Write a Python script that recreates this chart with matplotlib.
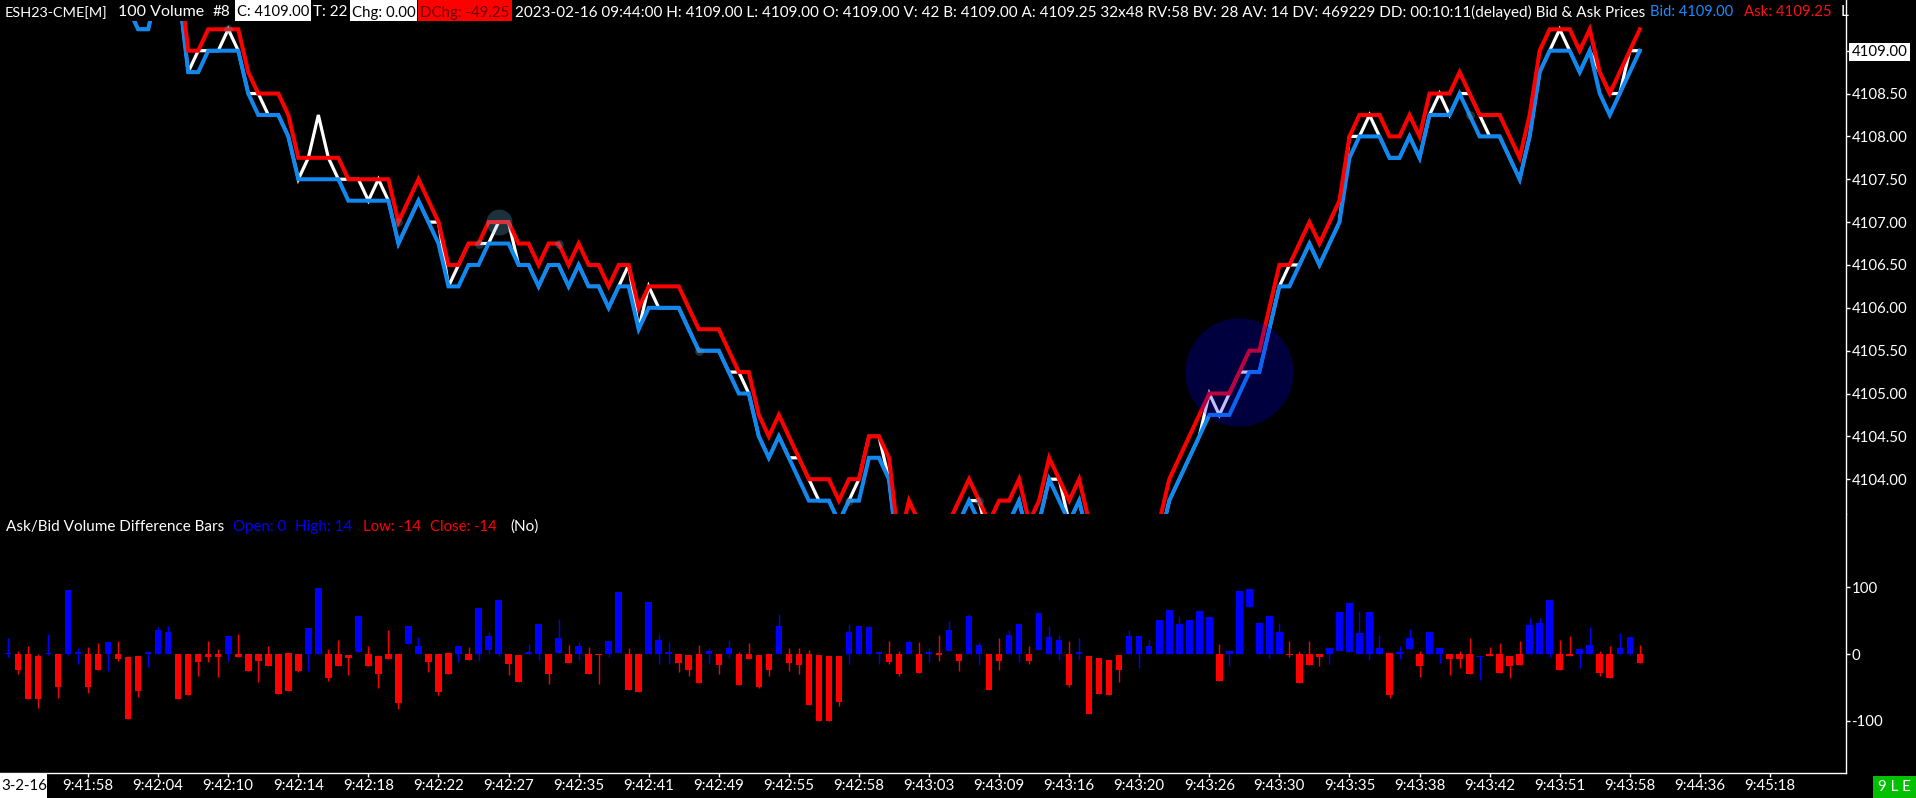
import numpy as np
import matplotlib
matplotlib.use('Agg')
import matplotlib.pyplot as plt
from matplotlib.patches import Rectangle
from matplotlib import font_manager

# a humanist font close to the platform UI font
names = {f.name for f in font_manager.fontManager.ttflist}
FONT = 'Noto Sans'
for cand in ['Lato', 'Roboto', 'Noto Sans']:
    if cand in names:
        FONT = cand
        break
plt.rcParams['font.family'] = [FONT, 'DejaVu Sans']

# ---- data: bid / ask / last per 100-volume bar ----
bid = [4109.75] * 10 + [
    4109.75, 4109.75, 4109.5, 4109.25, 4109.25, 4109.75, 4110.0, 4109.75, 4108.75, 4108.75,
    4109.0, 4109.0, 4109.0, 4109.0, 4108.5, 4108.25, 4108.25, 4108.25, 4108.0, 4107.5,
    4107.5, 4107.5, 4107.5, 4107.5, 4107.25, 4107.25, 4107.25, 4107.25, 4107.25, 4106.75,
    4107.0, 4107.25, 4107.0, 4106.75, 4106.25, 4106.25, 4106.5, 4106.5, 4106.75, 4106.75,
    4106.75, 4106.5, 4106.5, 4106.25, 4106.5, 4106.5, 4106.25, 4106.5, 4106.25, 4106.25,
    4106.0, 4106.25, 4106.25, 4105.75, 4106.0, 4106.0, 4106.0, 4106.0, 4105.75, 4105.5,
    4105.5, 4105.5, 4105.25, 4105.0, 4105.0, 4104.5, 4104.25, 4104.5, 4104.25, 4104.0,
    4103.75, 4103.75, 4103.75, 4103.5, 4103.75, 4103.75, 4104.25, 4104.25, 4104.0, 4103.0,
    4103.5, 4103.25, 4103.0, 4103.0, 4103.25, 4103.5, 4103.75, 4103.5, 4103.25, 4103.5,
    4103.5, 4103.75, 4103.25, 4103.5, 4104.0, 4103.75, 4103.5, 4103.75, 4103.25, 4103.0,
    4103.0, 4103.0, 4103.0, 4103.0, 4103.0, 4103.25, 4103.75, 4104.0, 4104.25, 4104.5,
    4104.75, 4104.75, 4104.75, 4105.0, 4105.25, 4105.25, 4105.75, 4106.25, 4106.25, 4106.5,
    4106.75, 4106.5, 4106.75, 4107.0, 4107.75, 4108.0, 4108.0, 4108.0, 4107.75, 4107.75,
    4108.0, 4107.75, 4108.25, 4108.25, 4108.25, 4108.5, 4108.25, 4108.0, 4108.0, 4108.0,
    4107.75, 4107.5, 4108.0, 4108.75, 4109.0, 4109.0, 4109.0, 4108.75, 4109.0, 4108.5,
    4108.25, 4108.5, 4108.75, 4109.0]

ask = [4110.0] * 10 + [
    4110.0, 4110.0, 4109.75, 4109.5, 4109.5, 4110.0, 4110.25, 4110.0, 4109.0, 4109.0,
    4109.25, 4109.25, 4109.25, 4109.25, 4108.75, 4108.5, 4108.5, 4108.5, 4108.25, 4107.75,
    4107.75, 4107.75, 4107.75, 4107.75, 4107.5, 4107.5, 4107.5, 4107.5, 4107.5, 4107.0,
    4107.25, 4107.5, 4107.25, 4107.0, 4106.5, 4106.5, 4106.75, 4106.75, 4107.0, 4107.0,
    4107.0, 4106.75, 4106.75, 4106.5, 4106.75, 4106.75, 4106.5, 4106.75, 4106.5, 4106.5,
    4106.25, 4106.5, 4106.5, 4106.0, 4106.25, 4106.25, 4106.25, 4106.25, 4106.0, 4105.75,
    4105.75, 4105.75, 4105.5, 4105.25, 4105.25, 4104.75, 4104.5, 4104.75, 4104.5, 4104.25,
    4104.0, 4104.0, 4104.0, 4103.75, 4104.0, 4104.0, 4104.5, 4104.5, 4104.25, 4103.25,
    4103.75, 4103.5, 4103.25, 4103.25, 4103.5, 4103.75, 4104.0, 4103.75, 4103.5, 4103.75,
    4103.75, 4104.0, 4103.5, 4103.75, 4104.25, 4104.0, 4103.75, 4104.0, 4103.5, 4103.25,
    4103.25, 4103.25, 4103.25, 4103.25, 4103.25, 4103.5, 4104.0, 4104.25, 4104.5, 4104.75,
    4105.0, 4105.0, 4105.0, 4105.25, 4105.5, 4105.5, 4106.0, 4106.5, 4106.5, 4106.75,
    4107.0, 4106.75, 4107.0, 4107.25, 4108.0, 4108.25, 4108.25, 4108.25, 4108.0, 4108.0,
    4108.25, 4108.0, 4108.5, 4108.5, 4108.5, 4108.75, 4108.5, 4108.25, 4108.25, 4108.25,
    4108.0, 4107.75, 4108.25, 4109.0, 4109.25, 4109.25, 4109.25, 4109.0, 4109.25, 4108.75,
    4108.5, 4108.75, 4109.0, 4109.25]

last = [4109.75] * 10 + [
    4109.75, 4109.75, 4109.5, 4109.25, 4109.25, 4109.75, 4110.0, 4109.75, 4108.75, 4109.0,
    4109.0, 4109.0, 4109.25, 4109.0, 4108.5, 4108.5, 4108.25, 4108.25, 4108.0, 4107.5,
    4107.75, 4108.25, 4107.75, 4107.5, 4107.5, 4107.5, 4107.25, 4107.5, 4107.25, 4106.75,
    4107.0, 4107.25, 4107.0, 4107.0, 4106.25, 4106.5, 4106.75, 4106.75, 4106.75, 4107.0,
    4107.0, 4106.5, 4106.5, 4106.25, 4106.5, 4106.5, 4106.25, 4106.5, 4106.25, 4106.25,
    4106.0, 4106.25, 4106.5, 4105.75, 4106.25, 4106.0, 4106.0, 4106.0, 4105.75, 4105.5,
    4105.5, 4105.5, 4105.25, 4105.25, 4105.0, 4104.5, 4104.25, 4104.5, 4104.25, 4104.25,
    4104.0, 4103.75, 4103.75, 4103.5, 4103.75, 4104.0, 4104.5, 4104.5, 4104.0, 4103.0,
    4103.5, 4103.25, 4103.0, 4103.0, 4103.25, 4103.5, 4103.75, 4103.75, 4103.25, 4103.5,
    4103.5, 4103.75, 4103.25, 4103.5, 4104.0, 4104.0, 4103.5, 4103.75, 4103.25, 4103.0,
    4103.0, 4103.0, 4103.0, 4103.0, 4103.0, 4103.25, 4103.75, 4104.0, 4104.25, 4104.5,
    4105.0, 4104.75, 4105.0, 4105.25, 4105.25, 4105.25, 4105.75, 4106.25, 4106.5, 4106.5,
    4106.75, 4106.5, 4106.75, 4107.0, 4108.0, 4108.0, 4108.25, 4108.0, 4107.75, 4107.75,
    4108.0, 4107.75, 4108.25, 4108.5, 4108.25, 4108.5, 4108.5, 4108.25, 4108.0, 4108.0,
    4107.75, 4107.5, 4108.0, 4108.75, 4109.0, 4109.25, 4109.0, 4108.75, 4109.0, 4108.75,
    4108.5, 4108.5, 4109.0, 4109.0]

# ---- data: ask/bid volume difference bars (open, close, high, low) ----
vd_open = [
    0, 0, 0, -2.5, 0, 0, 0, 0, 0, 0,
    0, 0, -4, -2.5, 0, 0, 0, 0, 0, 0,
    0, 0, 0, 0, 0, 0, 0, 0, 1.5, 0,
    0, 0, 0, 0, -2, 2.5, 0, -3.5, 0, 0,
    15, 0, 0, 0, 1, 0, 0, 0, 5.5, 0,
    0, -1, 0, 0, 0, 1, 0, 0, 0, 0,
    0, 1, 0, 0, 0, 0, 0, 0, -1, 0,
    0, 0, 0, 0, 0, -1, 0, 0, 0, 0,
    0, -1, -2.5, -2.5, 0, 0, 0, 0, 0, 0,
    0, 0, 0, 1, 4.5, 0, 0, 0, 0, 0,
    0, 0, 0, 6, 0, 0, 0, 0, -2.5, -6.5,
    -9, -1, 0, 0, 0, 0, 0, 0, 0, 0,
    0, 0, 0, 0, 70, 0, 0, 0, 0, 0,
    0, 0, 0, 4.5, 2.5, 0, 0, 0, 1, 0,
    7, 0, 0, 0, 0, 0, 0, -4.5, 0, 0,
    -2.5, 0, 0, 0, 0, 0, 0, 0, 0, 0,
    0, 0, 0, 0]
vd_close = [
    1, -23.5, -68, -67, 1, -50, 96, 2.5, -50, -24.5,
    18, -7, -98, -55, 2.5, 36, 33, -68, -61, -11.5,
    -4, -5, 27, -5, -26, -11, -18.5, -59.5, -55, -25,
    39, 99, -36.5, -18.5, -6.5, 57.5, -18.5, -30, -8, -74,
    42.5, 12.5, -12.5, -56.5, -30, 12.5, -9, 68.5, 27.5, 81.5,
    -14.5, -42.5, 2.5, 44.5, -29.5, 24.5, -13, 12.5, -29.5, -2,
    20, 93.5, -54.5, -56.5, 78.5, 21, 2.5, -13, -24, -44,
    4, -16.5, 8.5, -47, -8, -49.5, -24, 42.5, -13.5, -17,
    -76.5, -100.5, -100.5, -72, 32.5, 42.5, 40, 2.5, -12, -30,
    18.5, -28.5, 2.5, -1, 36.5, -10.5, 56.5, 13, -54, -10.5,
    28, 44.5, -10.5, 61, 25, 21, -47, 2.5, -90, -60,
    -62, -24, 27.5, 27.5, 12.5, 50.5, 66.5, 45.5, 50.5, 64,
    55, -40.5, 4, 94, 97, 46, 56.5, 33, -1, -44,
    -17, -5, 9.5, 62.5, 76, 31, 62.5, 8.5, -62, 2.5,
    24.5, -18, 32.5, 9.5, -8, -8, -30, -3, -3, -28.5,
    -17.5, -17, 44, 46, 80.5, -24, -3, 8, 14, -29,
    -36, 8.5, 25, -14]
vd_high = [
    24, 5, 12.5, 0, 30, 0, 96, 9, 10, 16,
    18, 20, -4, -2.5, 5, 41, 42, 0, 0, 0,
    20, 8, 27, 30, 0, 0, 12, 0, 2, 0,
    39, 99, 7, 21.5, -2, 57.5, 12, -3.5, 36, 0,
    42.5, 25, 0, 0, 1, 12.5, 10, 68.5, 33.5, 81.5,
    0, -1, 15, 44.5, 0, 52.5, 14, 17.5, 10, 0,
    20, 93.5, 8.5, 0, 78.5, 30, 18.5, 0, -1, 13,
    9.5, 0, 21.5, 3.5, 16, -1, 0, 59.5, 9.5, 9.5,
    6.5, -1, -2.5, -2.5, 44.5, 42.5, 41.5, 2.5, 19, 4,
    21.5, 17.5, 9.5, 28, 49, 0, 59.5, 17.5, 0, 24.5,
    36.5, 44.5, 11.5, 61, 41.5, 28, 19, 24.5, -2.5, -6.5,
    -9, -1, 35.5, 27.5, 22, 50.5, 66.5, 56.5, 50.5, 64,
    55, 15.5, 4, 94, 97, 46, 56.5, 46, 19, 4,
    19, 0, 9.5, 62.5, 76, 64, 62.5, 28, 1, 12.5,
    38, 4.5, 32.5, 9.5, 0, 4, 23.5, -3, 10, 16.5,
    -2.5, 19, 54.5, 54, 80.5, 20.5, 26.5, 8, 40, 4.5,
    11.5, 31, 25, 14]
vd_low = [
    -4, -30, -68, -81, -1, -66, -2, -15, -59, -24.5,
    -26, -10, -98, -65, -20, 0, 0, -68, -61, -33,
    -12, -35, -11, -5, -26, -42, -18.5, -59.5, -55, -26.5,
    -25, 0, -40, -18.5, -31, 2.5, -18.5, -51, -8, -83,
    15, 0, -27.5, -62, -30, -12, -9, -11, 0, -2.5,
    -31, -42.5, -1, -9, -45, 1, -13, -9, -29.5, -45,
    -5, 1, -54.5, -56.5, 0, -15, -15, -27, -33, -44,
    -15.5, -29.5, -5.5, -47, -8, -51.5, -33, 0, -25.5, -29.5,
    -76.5, -100.5, -100.5, -78, -15.5, -2, -2, -15.5, -15.5, -33.5,
    0, -28.5, -12, -10.5, 4.5, -25.5, 0, -17, -54, -24.5,
    0, -12, -14.5, 6, 0, -8.5, -49.5, -8.5, -90, -60,
    -62, -42, 0, -21, 0, 0, 0, 0, 0, 0,
    0, -40.5, -17.5, 0, 70, 0, -5.5, 0, -4.5, -44,
    -17, -18.5, -15, 4.5, 2.5, 0, -9, 0, -65.5, -8,
    7, -35, 0, -14, -32, -21, -30, -38.5, -3, -28.5,
    -36, -17, 0, 0, -4.5, -24, -3, -20.5, 0, -32.5,
    -36, 0, -2, -14]

tick_labels = ['9:41:58', '9:42:04', '9:42:10', '9:42:14', '9:42:18', '9:42:22', '9:42:27',
               '9:42:35', '9:42:41', '9:42:49', '9:42:55', '9:42:58', '9:43:03', '9:43:09',
               '9:43:16', '9:43:20', '9:43:26', '9:43:30', '9:43:35', '9:43:38', '9:43:42',
               '9:43:51', '9:43:58', '9:44:36', '9:45:18']
tick_bars = [8 + 7 * k for k in range(len(tick_labels))]
price_ticks = [4104.0, 4104.5, 4105.0, 4105.5, 4106.0, 4106.5, 4107.0, 4107.5, 4108.0, 4108.5, 4109.0]

# highlight circles / small trade markers (bar, price)
hl_bar, hl_price = 123, 4105.25
hl2_bar, hl2_price = 49, 4107.0
dot_bars = [22, 39, 47, 55, 69, 84, 97, 146]
dot_prices = [4109.25, 4107.0, 4106.75, 4106.75, 4105.5, 4103.75, 4103.75, 4108.25]

# ---- figure ----
W, H = 1916, 798
fig = plt.figure(figsize=(W / 100, H / 100), dpi=100, facecolor='black')

def fx(px):
    return px / W

def fy(py):
    return 1 - py / H

x = np.arange(len(bid))
XL = (-0.8, 183.6)
BLUE = '#1088f0'
RED = '#ff0000'

r = fig.canvas.get_renderer()

def fit_size(s, width, fs0=10):
    t = fig.text(0, 0, s, fontsize=fs0)
    w = t.get_window_extent(r).width
    t.remove()
    return fs0 * width / w

tick_fs = fit_size('4108.50', 56)

# price panel
ax = fig.add_axes([0, fy(514), fx(1846), 514 / H])
ax.set_facecolor('black')
ax.plot(x, last, color='white', lw=2.3, zorder=2, solid_joinstyle='miter')
ax.plot(x, bid, color=BLUE, lw=2.9, zorder=3, solid_joinstyle='miter')
ax.plot(x, ask, color=RED, lw=2.9, zorder=4, solid_joinstyle='miter')
ax.scatter([hl_bar], [hl_price], s=6050, color=(0, 0, 1, 0.25), lw=0, zorder=6)
ax.scatter([hl2_bar], [hl2_price], s=350, color=(0.45, 0.78, 0.94, 0.25), lw=0, zorder=6)
ax.scatter(dot_bars, dot_prices, s=40, color=(0.45, 0.6, 0.7, 0.3), lw=0, zorder=6)
ax.set_xlim(*XL)
ax.set_ylim(4103.594, 4109.5916)
ax.set_xticks([])
ax.yaxis.tick_right()
ax.set_yticks(price_ticks)
ax.set_yticklabels(['%.2f' % p for p in price_ticks])
ax.tick_params(axis='y', colors='white', labelcolor='white', length=3, width=1,
               labelsize=tick_fs, pad=1)
for s in ['top', 'left', 'bottom']:
    ax.spines[s].set_visible(False)
ax.spines['right'].set_color('white')
ax.spines['right'].set_linewidth(1.0)
for lab in ax.get_yticklabels():
    if lab.get_text() == '4109.00':
        lab.set_color('black')
        lab.set_bbox(dict(facecolor='white', edgecolor='none', pad=1.5))

# volume difference panel
bx = fig.add_axes([0, fy(773), fx(1846), (773 - 514) / H])
bx.set_facecolor('black')
o = np.array(vd_open, float)
c = np.array(vd_close, float)
hgt = c - o
hgt = np.where(np.abs(hgt) < 1.5, np.where(hgt < 0, -1.5, 1.5), hgt)
cols = np.where(c >= o, '#0000ff', '#ff0000')
bx.vlines(x, vd_low, vd_high, colors=cols, lw=1.0, zorder=2)
bx.bar(x, hgt, bottom=o, width=0.65, color=cols, lw=0, zorder=3)
bx.set_xlim(*XL)
bx.set_ylim(-178.9, 210.5)
bx.yaxis.tick_right()
bx.set_yticks([-100, 0, 100])
bx.set_yticklabels(['-100', '0', '100'])
bx.set_xticks(tick_bars)
bx.set_xticklabels(tick_labels)
bx.tick_params(colors='white', labelcolor='white', length=3, width=1, labelsize=tick_fs, pad=1)
for s in ['top', 'left']:
    bx.spines[s].set_visible(False)
for s in ['bottom', 'right']:
    bx.spines[s].set_color('white')
    bx.spines[s].set_linewidth(1.0)

# title strip
fig.add_artist(Rectangle((0, fy(21)), fx(1845), 21 / H, transform=fig.transFigure,
                         facecolor='black', edgecolor='none', zorder=5))
for x0, x1, col in [(235, 311, 'white'), (350, 417, 'white'), (418, 512, '#ff0000')]:
    fig.add_artist(Rectangle((fx(x0), fy(21)), fx(x1 - x0), 21 / H, transform=fig.transFigure,
                             facecolor=col, edgecolor='none', zorder=6))

long_txt = ('2023-02-16 09:44:00 H: 4109.00 L: 4109.00 O: 4109.00 V: 42 B: 4109.00 '
            'A: 4109.25 32x48 RV:58 BV: 28 AV: 14 DV: 469229 DD: 00:10:11(delayed) Bid & Ask Prices')
# (left px, text, colour, target width px or None)
title_parts = [
    (5, 'ESH23-CME[M]', 'white', 102),
    (118, '100 Volume', 'white', 86),
    (213, '#8', 'white', None),
    (237, 'C: 4109.00', 'black', 72),
    (313, 'T: 22', 'white', None),
    (352, 'Chg: 0.00', 'black', 63),
    (420, 'DChg: -49.25', '#6a0000', 89),
    (515, long_txt, 'white', 1125),
    (1650, 'Bid: 4109.00', '#1a8cff', 83),
    (1744, 'Ask: 4109.25', '#ff1010', 88),
    (1841, 'L', 'white', None),
]
sub_parts = [
    (6, 'Ask/Bid Volume Difference Bars', 'white', 218),
    (233, 'Open: 0', '#0000ff', 53),
    (295, 'High: 14', '#0000ff', 57),
    (363, 'Low: -14', '#ff0000', 58),
    (430, 'Close: -14', '#ff0000', 67),
    (510, '(No)', 'white', None),
]
title_fs = fit_size(long_txt, 1125)
sub_fs = fit_size(sub_parts[0][1], 218)
for parts, yc, fs_def in [(title_parts, 12.5, title_fs), (sub_parts, 527, sub_fs)]:
    for px, s, col, wd in parts:
        fs = fit_size(s, wd) if wd else fs_def
        fig.text(fx(px), fy(yc), s, color=col, fontsize=fs, ha='left', va='center', zorder=7)

# bottom corner boxes
fig.add_artist(Rectangle((0, 0), fx(47), 24 / H, transform=fig.transFigure,
                         facecolor='white', edgecolor='none', zorder=5))
fig.text(fx(1), fy(786), '3-2-16', color='black', fontsize=tick_fs, ha='left', va='center', zorder=6)
fig.add_artist(Rectangle((fx(1873), 0), fx(43), 22 / H, transform=fig.transFigure,
                         facecolor='#00c000', edgecolor='none', zorder=5))
fig.text(fx(1894), fy(787), '9 L E', color='white', fontsize=tick_fs, ha='center', va='center', zorder=6)

fig.savefig('out.png', dpi=100, facecolor='black')
